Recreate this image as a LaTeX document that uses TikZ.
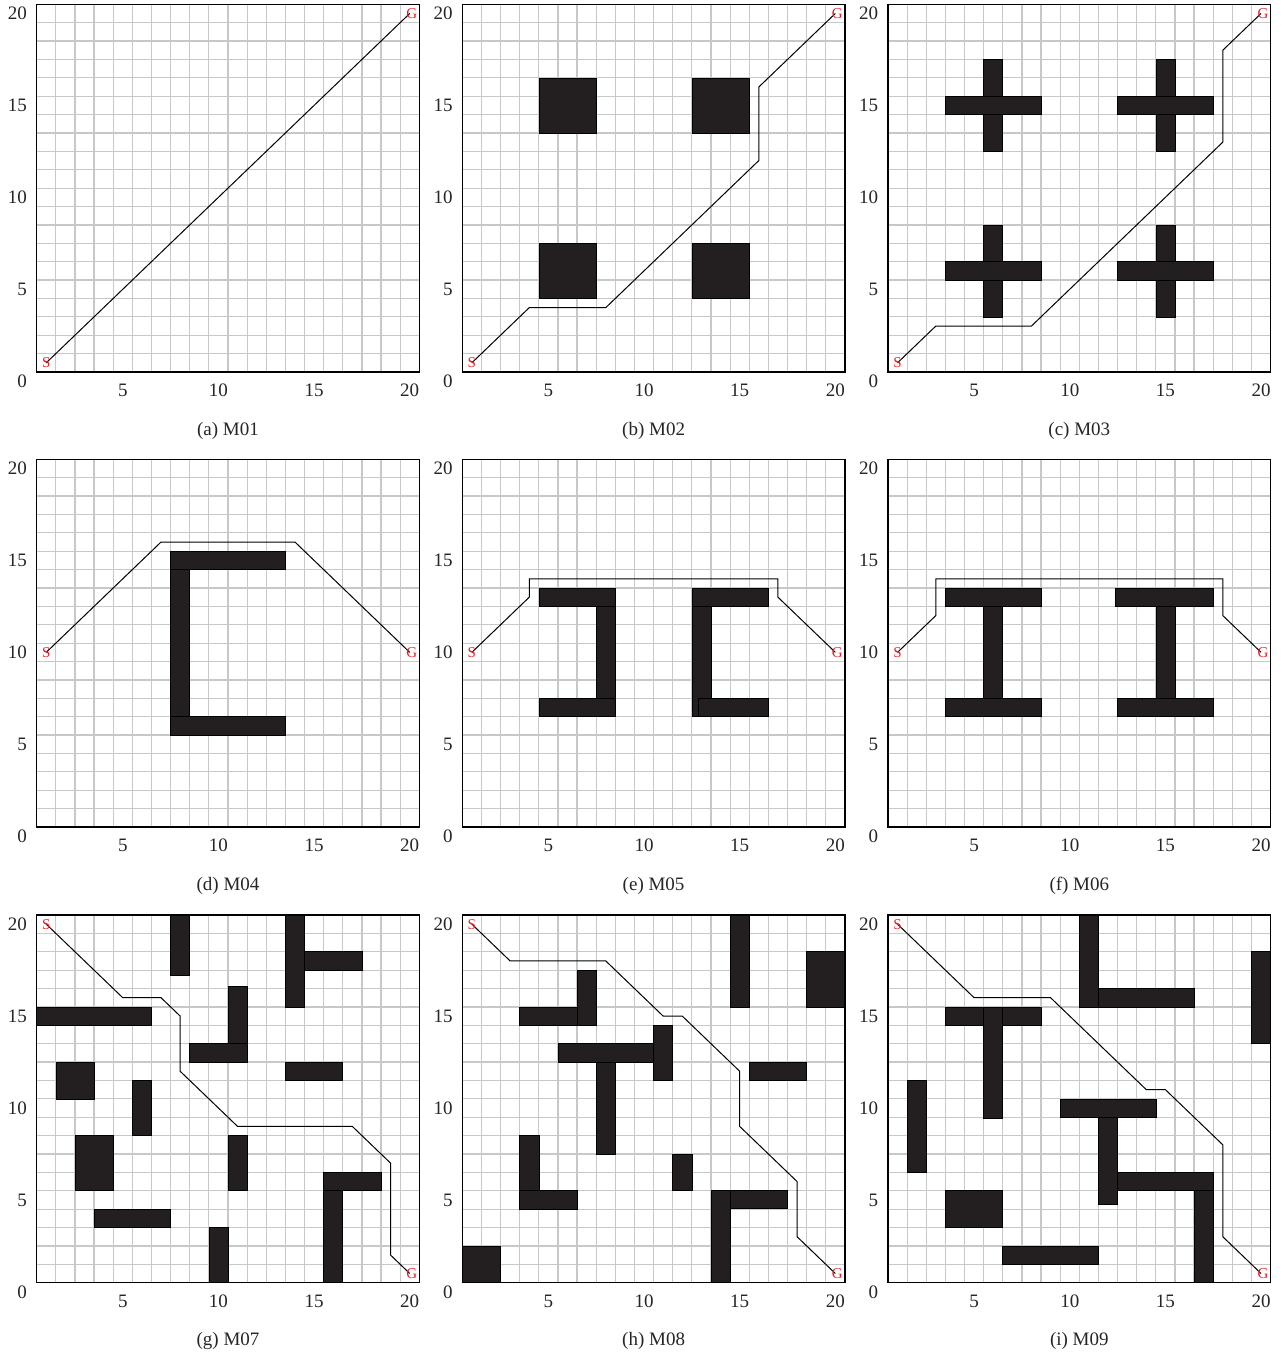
\documentclass[tikz,border=0pt]{standalone}
\usepackage{fontspec}
\setmainfont{Liberation Serif}
\definecolor{obsfill}{RGB}{35,31,32}
\definecolor{sgred}{RGB}{237,28,36}
\definecolor{gridgray}{RGB}{200,200,200}
\tikzset{
  gridl/.style={draw=gridgray, line width=1.2pt},
  pframe/.style={draw=black, line width=1.4pt},
  obst/.style={fill=obsfill, draw=black, line width=0.6pt},
  pathline/.style={draw=black, line width=1pt, line join=miter},
  ticklab/.style={font=\fontsize{19pt}{22pt}\selectfont, inner sep=0pt, text=black!85},
  capt/.style={font=\fontsize{19pt}{22pt}\selectfont, anchor=base, inner sep=0pt, text=black!85},
  sglab/.style={font=\fontsize{15pt}{17pt}\selectfont, inner sep=0pt, text=sgred},
  panel/.style 2 args={shift={(#1pt,#2pt)}, x=19.13pt, y=18.385pt}
}
\newcommand\panelgrid{%
  \foreach \i in {0.5,1.5,...,20.5}{%
    \draw[gridl] (\i,0.5) -- (\i,20.5);
    \draw[gridl] (0.5,\i) -- (20.5,\i);
  }%
}
\newcommand\panelaxes[2]{%
  \draw[pframe] (0.5,0.5) rectangle (20.5,20.5);
  \foreach \v in {5,10,15,20} \node[ticklab] (#1x\v) at (\v,-0.52) {\v};
  \foreach \v in {0,5,10,15,20} \node[ticklab, anchor=east] (#1y\v) at (0,\v) {\v};
  \node[capt] (#1cap) at (10.5,-2.93) {#2};
}
\begin{document}
\begin{tikzpicture}
\fill[white] (0,0) rectangle (1283pt,1354pt);
\useasboundingbox (0,0) rectangle (1283pt,1354pt);

% ---------- (a) M01
\begin{scope}[panel={27.135}{972.81}]
  \panelgrid
  \draw[pathline] (1,1) -- (20,20);
  \panelaxes{a}{(a) M01}
  \node[sglab] (aS) at (1,1) {S};
  \node[sglab, xshift=2pt] (aG) at (20,20) {G};
\end{scope}

% ---------- (b) M02
\begin{scope}[panel={452.735}{972.81}]
  \panelgrid
  \draw[obst] (4.5,13.5) rectangle (7.5,16.5);
  \draw[obst] (12.5,13.5) rectangle (15.5,16.5);
  \draw[obst] (4.5,4.5) rectangle (7.5,7.5);
  \draw[obst] (12.5,4.5) rectangle (15.5,7.5);
  \draw[pathline] (1,1) -- (4,4) -- (8,4) -- (16,12) -- (16,16) -- (20,20);
  \panelaxes{b}{(b) M02}
  \node[sglab] (bS) at (1,1) {S};
  \node[sglab, xshift=2pt] (bG) at (20,20) {G};
\end{scope}

% ---------- (c) M03
\begin{scope}[panel={878.435}{972.81}]
  \panelgrid
  \foreach \cx/\cy in {6/15,15/15,6/6,15/6}{%
    \draw[obst] (\cx-0.5,\cy-2.5) rectangle (\cx+0.5,\cy+2.5);
    \draw[obst] (\cx-2.5,\cy-0.5) rectangle (\cx+2.5,\cy+0.5);
  }
  \draw[pathline] (1,1) -- (3,3) -- (8,3) -- (18,13) -- (18,18) -- (20,20);
  \panelaxes{c}{(c) M03}
  \node[sglab] (cS) at (1,1) {S};
  \node[sglab, xshift=2pt] (cG) at (20,20) {G};
\end{scope}

% ---------- (d) M04
\begin{scope}[panel={27.135}{517.81}]
  \panelgrid
  \draw[obst] (7.5,14.5) rectangle (13.5,15.5);
  \draw[obst] (7.5,6.5) rectangle (8.5,14.5);
  \draw[obst] (7.5,5.5) rectangle (13.5,6.5);
  \draw[pathline] (1,10) -- (7,16) -- (14,16) -- (20,10);
  \panelaxes{d}{(d) M04}
  \node[sglab] (dS) at (1,10) {S};
  \node[sglab, xshift=2pt] (dG) at (20,10) {G};
\end{scope}

% ---------- (e) M05
\begin{scope}[panel={452.735}{517.81}]
  \panelgrid
  \draw[obst] (4.5,12.5) rectangle (8.5,13.5);
  \draw[obst] (7.5,7.5) rectangle (8.5,12.5);
  \draw[obst] (4.5,6.5) rectangle (8.5,7.5);
  \draw[obst] (12.5,12.5) rectangle (16.5,13.5);
  \draw[obst] (12.5,6.5) rectangle (13.5,12.5);
  \draw[obst] (12.85,6.5) rectangle (16.5,7.5);
  \draw[pathline] (1,10) -- (4,13) -- (4,14) -- (17,14) -- (17,13) -- (20,10);
  \panelaxes{e}{(e) M05}
  \node[sglab] (eS) at (1,10) {S};
  \node[sglab, xshift=2pt] (eG) at (20,10) {G};
\end{scope}

% ---------- (f) M06
\begin{scope}[panel={878.435}{517.81}]
  \panelgrid
  \draw[obst] (3.5,12.5) rectangle (8.5,13.5);
  \draw[obst] (5.5,7.5) rectangle (6.5,12.5);
  \draw[obst] (3.5,6.5) rectangle (8.5,7.5);
  \draw[obst] (12.4,12.5) rectangle (17.5,13.5);
  \draw[obst] (14.5,7.5) rectangle (15.5,12.5);
  \draw[obst] (12.5,6.5) rectangle (17.5,7.5);
  \draw[pathline] (1,10) -- (3,12) -- (3,14) -- (18,14) -- (18,12) -- (20,10);
  \panelaxes{f}{(f) M06}
  \node[sglab] (fS) at (1,10) {S};
  \node[sglab, xshift=2pt] (fG) at (20,10) {G};
\end{scope}

% ---------- (g) M07
\begin{scope}[panel={27.135}{62.11}]
  \panelgrid
  \draw[obst] (7.5,17.23) rectangle (8.5,20.5);
  \draw[obst] (13.5,15.5) rectangle (14.5,20.5);
  \draw[obst] (14.5,17.5) rectangle (17.5,18.5);
  \draw[obst] (0.5,14.5) rectangle (6.5,15.5);
  \draw[obst] (10.5,13.5) rectangle (11.5,16.63);
  \draw[obst] (8.5,12.5) rectangle (11.5,13.5);
  \draw[obst] (13.5,11.5) rectangle (16.5,12.5);
  \draw[obst] (1.5,10.5) rectangle (3.5,12.5);
  \draw[obst] (5.5,8.5) rectangle (6.5,11.5);
  \draw[obst] (2.5,5.5) rectangle (4.5,8.5);
  \draw[obst] (10.5,5.5) rectangle (11.5,8.5);
  \draw[obst] (3.5,3.5) rectangle (7.5,4.5);
  \draw[obst] (9.5,0.5) rectangle (10.5,3.5);
  \draw[obst] (15.5,5.5) rectangle (18.5,6.5);
  \draw[obst] (15.5,0.5) rectangle (16.5,5.5);
  \draw[pathline] (1,20) -- (5,16) -- (7,16) -- (8,15) -- (8,12) -- (11,9) -- (17,9) -- (19,7) -- (19,2) -- (20,1);
  \panelaxes{g}{(g) M07}
  \node[sglab] (gS) at (1,20) {S};
  \node[sglab, xshift=2pt] (gG) at (20,1) {G};
\end{scope}

% ---------- (h) M08
\begin{scope}[panel={452.735}{62.11}]
  \panelgrid
  \draw[obst] (14.5,15.5) rectangle (15.5,20.5);
  \draw[obst] (18.5,15.5) rectangle (20.5,18.5);
  \draw[obst] (6.5,14.5) rectangle (7.5,17.5);
  \draw[obst] (3.5,14.5) rectangle (6.5,15.5);
  \draw[obst] (5.5,12.5) rectangle (10.5,13.5);
  \draw[obst] (10.5,11.5) rectangle (11.5,14.5);
  \draw[obst] (7.5,7.5) rectangle (8.5,12.5);
  \draw[obst] (11.5,5.5) rectangle (12.5,7.5);
  \draw[obst] (3.5,5.5) rectangle (4.5,8.5);
  \draw[obst] (3.5,4.5) rectangle (6.5,5.5);
  \draw[obst] (0.5,0.5) rectangle (2.5,2.5);
  \draw[obst] (13.5,0.5) rectangle (14.5,5.5);
  \draw[obst] (14.5,4.55) rectangle (17.5,5.55);
  \draw[obst] (15.5,11.5) rectangle (18.5,12.5);
  \draw[pathline] (1,20) -- (3,18) -- (8,18) -- (11,15) -- (12,15) -- (15,12) -- (15,9) -- (18,6) -- (18,3) -- (20,1);
  \panelaxes{h}{(h) M08}
  \node[sglab] (hS) at (1,20) {S};
  \node[sglab, xshift=2pt] (hG) at (20,1) {G};
\end{scope}

% ---------- (i) M09
\begin{scope}[panel={878.435}{62.11}]
  \panelgrid
  \draw[obst] (10.5,15.5) rectangle (11.5,20.5);
  \draw[obst] (11.5,15.5) rectangle (16.5,16.5);
  \draw[obst] (19.5,13.5) rectangle (20.5,18.5);
  \draw[obst] (3.5,14.5) rectangle (8.5,15.5);
  \draw[obst] (5.5,9.42) rectangle (6.5,15.5);
  \draw[obst] (1.5,6.5) rectangle (2.5,11.5);
  \draw[obst] (9.5,9.5) rectangle (14.5,10.5);
  \draw[obst] (11.5,4.76) rectangle (12.5,9.5);
  \draw[obst] (12.5,5.5) rectangle (17.5,6.5);
  \draw[obst] (16.5,0.5) rectangle (17.5,5.5);
  \draw[obst] (3.5,3.5) rectangle (6.5,5.55);
  \draw[obst] (6.5,1.5) rectangle (11.5,2.5);
  \draw[pathline] (1,20) -- (5,16) -- (9,16) -- (14,11) -- (15,11) -- (18,8) -- (18,3) -- (20,1);
  \panelaxes{i}{(i) M09}
  \node[sglab] (iS) at (1,20) {S};
  \node[sglab, xshift=2pt] (iG) at (20,1) {G};
\end{scope}
\end{tikzpicture}
\end{document}
